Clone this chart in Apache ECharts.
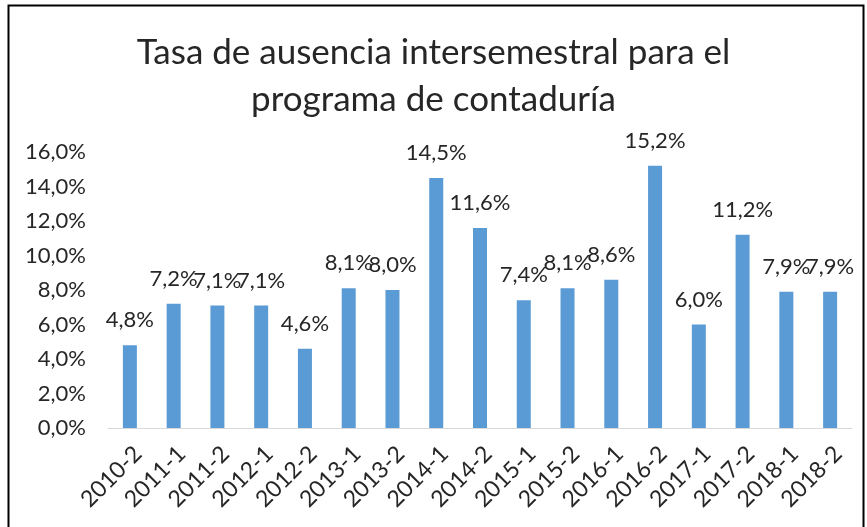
<!DOCTYPE html>
<html>
<head>
<meta charset="utf-8">
<script src="https://cdn.jsdelivr.net/npm/echarts@6/dist/echarts.min.js"></script>
<style>
  html, body { margin: 0; padding: 0; background: #fff; }
  #chart { width: 867px; height: 527px; }
</style>
</head>
<body>
<div id="chart"></div>
<script>
const categories = ['2010-2', '2011-1', '2011-2', '2012-1', '2012-2', '2013-1', '2013-2', '2014-1', '2014-2',
  '2015-1', '2015-2', '2016-1', '2016-2', '2017-1', '2017-2', '2018-1', '2018-2']
const rates = [4.8, 7.2, 7.1, 7.1, 4.6, 8.1, 8.0, 14.5, 11.6, 7.4, 8.1, 8.6, 15.2, 6.0, 11.2, 7.9, 7.9]

const fontFamily = 'Lato, "Open Sans", sans-serif'
const pct = v => v.toFixed(1).replace('.', ',') + '%'

const chart = echarts.init(document.getElementById('chart'), null, { devicePixelRatio: 1 })

chart.setOption({
  backgroundColor: '#fff',
  animation: false,
  title: {
    text: 'Tasa de ausencia intersemestral para el\nprograma de contaduría',
    left: 'center',
    top: 24,
    textStyle: { fontFamily, fontSize: 35, fontWeight: 'normal', color: '#262626', lineHeight: 47 }
  },
  graphic: [{
    type: 'rect',
    shape: { x: 8.5, y: 5.5, width: 855, height: 540 },
    style: { fill: 'none', stroke: '#000', lineWidth: 2 },
    silent: true
  }],
  grid: { left: 108, right: 15, top: 152, bottom: 99 },
  xAxis: {
    type: 'category',
    data: categories,
    axisLine: { lineStyle: { color: '#d9d9d9', width: 1 } },
    axisTick: { show: false },
    axisLabel: {
      rotate: 45, fontFamily, fontSize: 23, color: '#262626',
      margin: 14, interval: 0, verticalAlign: 'top'
    }
  },
  yAxis: {
    type: 'value',
    min: 0,
    max: 16,
    interval: 2,
    axisLine: { show: false },
    axisTick: { show: false },
    splitLine: { show: false },
    axisLabel: { fontFamily, fontSize: 22, color: '#262626', margin: 22, formatter: pct }
  },
  series: [{
    type: 'bar',
    data: rates,
    barWidth: 14,
    itemStyle: { color: '#5b9bd5' },
    label: {
      show: true,
      position: 'top',
      distance: 14,
      fontFamily,
      fontSize: 22,
      color: '#262626',
      formatter: p => pct(p.value)
    }
  }]
})
</script>
</body>
</html>
